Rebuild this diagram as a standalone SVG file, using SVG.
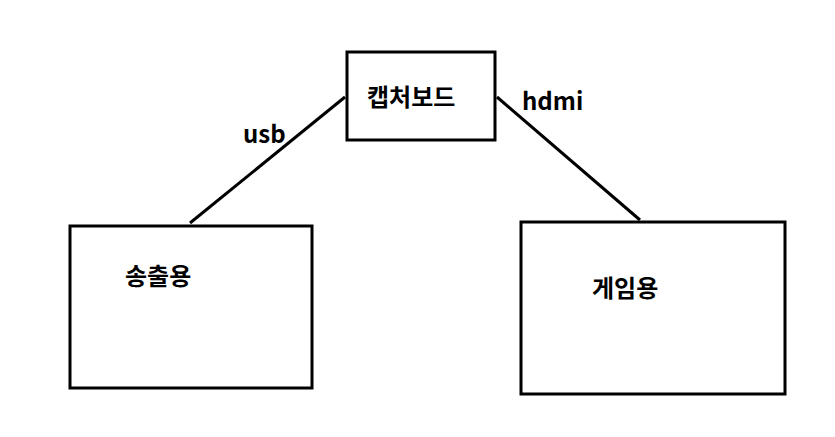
<svg xmlns="http://www.w3.org/2000/svg" width="835" height="437" viewBox="0 0 835 437">
<style>
rect{fill:#fff;stroke:#000;stroke-width:3}
text{font-family:"Noto Sans CJK KR","Noto Sans",sans-serif;font-weight:bold;font-size:24px;fill:#000}
line{stroke:#000;stroke-width:3}
</style>
<rect x="0" y="0" width="835" height="437" style="stroke:none"/>
<g id="connectors">
<line x1="190" y1="223" x2="345" y2="97"/>
<line x1="497" y1="97" x2="640" y2="220"/>
<text x="243" y="143">usb</text>
<text x="522" y="110">hdmi</text>
</g>
<g id="capture"><rect x="347" y="52" width="148" height="88"/><text x="367" y="106">캡처보드</text></g>
<g id="stream"><rect x="70" y="226" width="242" height="162"/><text x="125" y="285">송출용</text></g>
<g id="game"><rect x="521" y="222" width="264" height="172"/><text x="592" y="297">게임용</text></g>
</svg>
